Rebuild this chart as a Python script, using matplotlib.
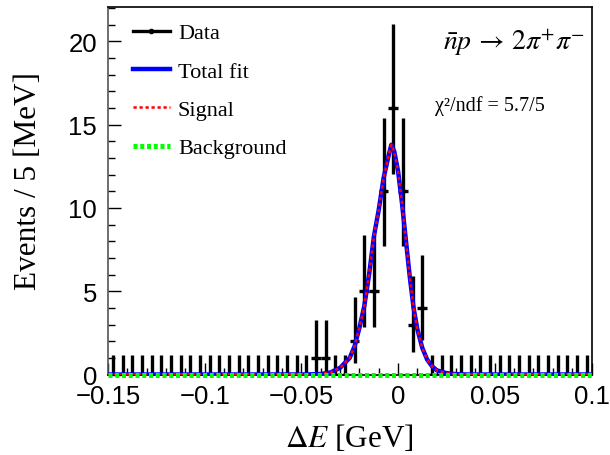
import numpy as np
import matplotlib
matplotlib.use("Agg")
import matplotlib.pyplot as plt
from matplotlib.lines import Line2D
from matplotlib.ticker import MultipleLocator, FuncFormatter

plt.rcParams['mathtext.fontset'] = 'stix'

# --- DATA ---
x_lo, x_hi, bin_w = -0.15, 0.10, 0.005

# events per 5 MeV bin, 50 bins from -0.15 to 0.10
counts = [0] * 21 + [1, 1, 0, 0, 2, 5, 5, 11, 16, 11, 3, 4] + [0] * 17

# Poisson 68% interval half-widths for the counts that occur
poisson_lo = {0: 0.0, 1: 0.827, 2: 1.292, 3: 1.633, 4: 1.914, 5: 2.159, 11: 3.261, 16: 3.954}
poisson_hi = {0: 1.148, 1: 2.299, 2: 2.637, 3: 2.918, 4: 3.162, 5: 3.382, 11: 4.410, 16: 5.078}

# total fit / signal curve
fit_x = [-0.150, -0.050, -0.045, -0.040, -0.035, -0.030, -0.025, -0.0225, -0.020,
         -0.0175, -0.015, -0.0125, -0.010, -0.0075, -0.005, -0.0035, -0.002,
         0.000, 0.002, 0.004, 0.006, 0.008, 0.010, 0.0125, 0.015, 0.0175,
         0.020, 0.025, 0.030, 0.035, 0.100]
fit_y = [0.0, 0.0, 0.01, 0.03, 0.12, 0.4, 1.0, 1.7, 2.8,
         4.1, 6.0, 8.3, 9.9, 11.8, 13.1, 13.8, 13.4,
         12.2, 10.3, 8.1, 5.9, 4.0, 2.7, 1.6, 0.9, 0.5,
         0.25, 0.08, 0.02, 0.0, 0.0]

bkg_x = [-0.15, 0.10]
bkg_y = [0.0, 0.0]

# --- FIGURE ---
fig = plt.figure(figsize=(6.10, 4.56), dpi=100)
ax = fig.add_axes([108 / 610, 1 - 375.5 / 456, 483.5 / 610, 368 / 456])

centers = x_lo + bin_w / 2 + bin_w * np.arange(len(counts))
yerr = [[poisson_lo[c] for c in counts], [poisson_hi[c] for c in counts]]
ax.errorbar(centers, counts, yerr=yerr, xerr=bin_w / 2, fmt='o', color='black',
            ms=2.5, elinewidth=2.4, capsize=0, zorder=3)

ax.plot(fit_x, fit_y, color='#0000ff', lw=3.2, zorder=4, solid_capstyle='butt')
ax.plot(fit_x, fit_y, color='#ff0000', lw=1.8, dashes=(1.3, 1.1), zorder=5)
ax.plot(bkg_x, bkg_y, color='#00ff00', lw=3.6, dashes=(0.8, 0.55), zorder=6, clip_on=False)

ax.set_xlim(x_lo, x_hi)
ax.set_ylim(0, 22.1)

# ROOT-like frame and ticks
for side in ('top', 'right', 'bottom'):
    ax.spines[side].set_color('black')
ax.spines['left'].set_color('#555555')
for sp in ax.spines.values():
    sp.set_linewidth(1.2)

ax.xaxis.set_major_locator(MultipleLocator(0.05))
ax.xaxis.set_minor_locator(MultipleLocator(0.01))
ax.yaxis.set_major_locator(MultipleLocator(5))
ax.yaxis.set_minor_locator(MultipleLocator(1))
ax.tick_params(which='both', direction='in', top=False, right=False)
ax.tick_params(which='major', length=9, width=1.0)
ax.tick_params(which='minor', length=5, width=1.0)
ax.tick_params(axis='x', which='major', pad=7)
ax.tick_params(axis='y', which='major', pad=8)
ax.xaxis.set_major_formatter(FuncFormatter(lambda v, p: f"{v:g}".replace('-', '\u2212')))
for lbl in ax.get_xticklabels() + ax.get_yticklabels():
    lbl.set_family('Liberation Sans')
    lbl.set_fontsize(18.5)

ax.set_xlabel(r'$\Delta E$ [GeV]', family='Liberation Serif', fontsize=22.5)
ax.set_ylabel('Events / 5 [MeV]', family='Liberation Serif', fontsize=22.5)
ax.xaxis.set_label_coords(0.5, -0.128)
ax.yaxis.set_label_coords(-0.135, 0.528)

# legend
handles = [
    Line2D([], [], color='black', lw=2.4, marker='o', ms=3),
    Line2D([], [], color='#0000ff', lw=3.2),
    Line2D([], [], color='#ff0000', lw=1.8, dashes=(1.3, 1.1)),
    Line2D([], [], color='#00ff00', lw=3.6, dashes=(0.8, 0.55)),
]
labels = ['Data', 'Total fit', 'Signal', 'Background']
ax.legend(handles, labels, loc='upper left', bbox_to_anchor=(0.01, 1.01), frameon=False,
          prop={'family': 'Liberation Serif', 'size': 16}, handlelength=1.67,
          handletextpad=0.36, labelspacing=0.8)

ax.text(0.9866, 0.9035, r'$\bar{n}p\,\rightarrow\,2\pi^{+}\pi^{-}$', transform=ax.transAxes,
        ha='right', va='center', fontsize=20)
ax.text(0.676, 0.732, 'χ²/ndf = 5.7/5', transform=ax.transAxes,
        ha='left', va='center', fontsize=14.5, family='Liberation Serif')

fig.savefig('out.png', dpi=100)
